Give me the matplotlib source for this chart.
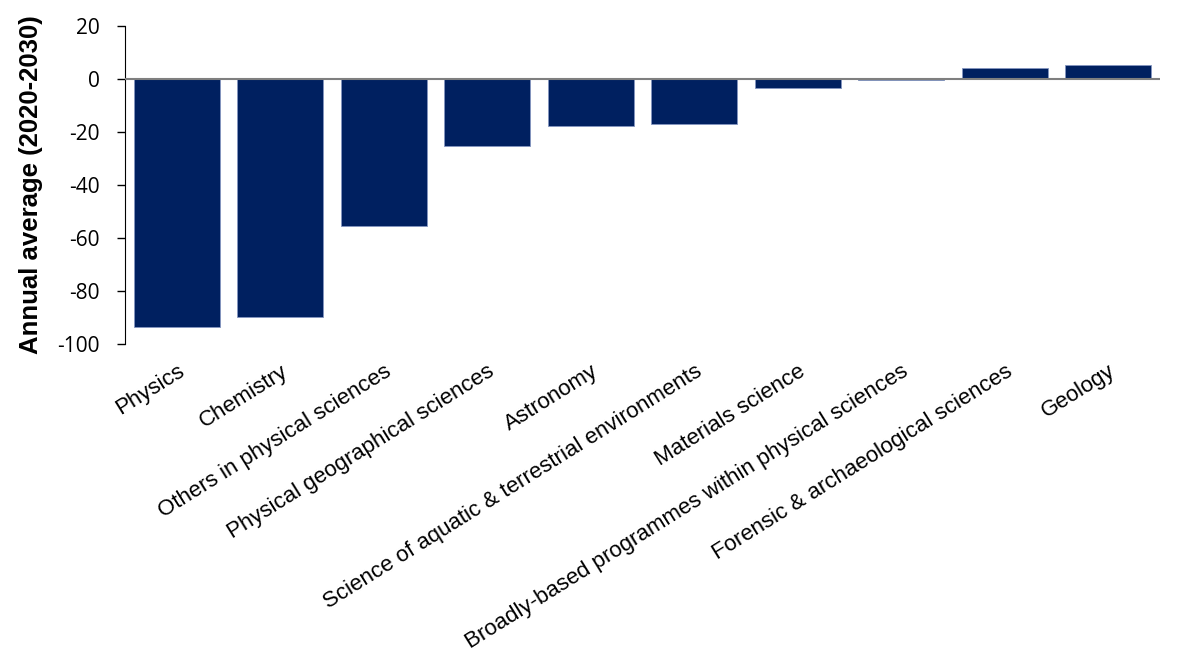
import matplotlib
matplotlib.use("Agg")
import matplotlib.pyplot as plt
import numpy as np

# Categories and annual average change (2020-2030)
categories = [
    "Physics",
    "Chemistry",
    "Others in physical sciences",
    "Physical geographical sciences",
    "Astronomy",
    "Science of aquatic & terrestrial environments",
    "Materials science",
    "Broadly-based programmes within physical sciences",
    "Forensic & archaeological sciences",
    "Geology",
]
values = [-93.6, -89.8, -55.5, -25.4, -17.9, -17.1, -3.4, -0.4, 4.3, 5.1]

plt.rcParams["font.family"] = ["Open Sans", "DejaVu Sans"]
plt.rcParams["axes.unicode_minus"] = False

fig = plt.figure(figsize=(11.79, 6.58), dpi=100)
ax = fig.add_axes([125 / 1179, 1 - 344 / 658, (1160 - 125) / 1179, (344 - 26) / 658])

x = np.arange(len(categories))
ax.bar(x, values, width=0.83, color="#002060", edgecolor="#8496c0", linewidth=0.6, zorder=2)
ax.axhline(0, color="#7f7f7f", linewidth=1.5, zorder=3)

ax.set_xlim(-0.5, len(categories) - 0.5)
ax.set_ylim(-100, 20)
ax.set_yticks(np.arange(-100, 21, 20))
ax.tick_params(axis="y", labelsize=15, length=6, width=1, direction="out", pad=12)
ax.tick_params(axis="x", length=0, pad=12)
ax.set_xticks(x)
ax.set_xticklabels(categories, rotation=32, ha="right", rotation_mode="anchor",
                   fontsize=16, family="Liberation Sans")

for s in ["top", "right", "bottom"]:
    ax.spines[s].set_visible(False)
ax.spines["left"].set_color("black")

ax.set_ylabel("Annual average (2020-2030)", fontsize=18.5, fontweight="bold",
              family="Liberation Sans")
ax.yaxis.set_label_coords(-0.079, 0.5)

fig.savefig("out.png", dpi=100)
